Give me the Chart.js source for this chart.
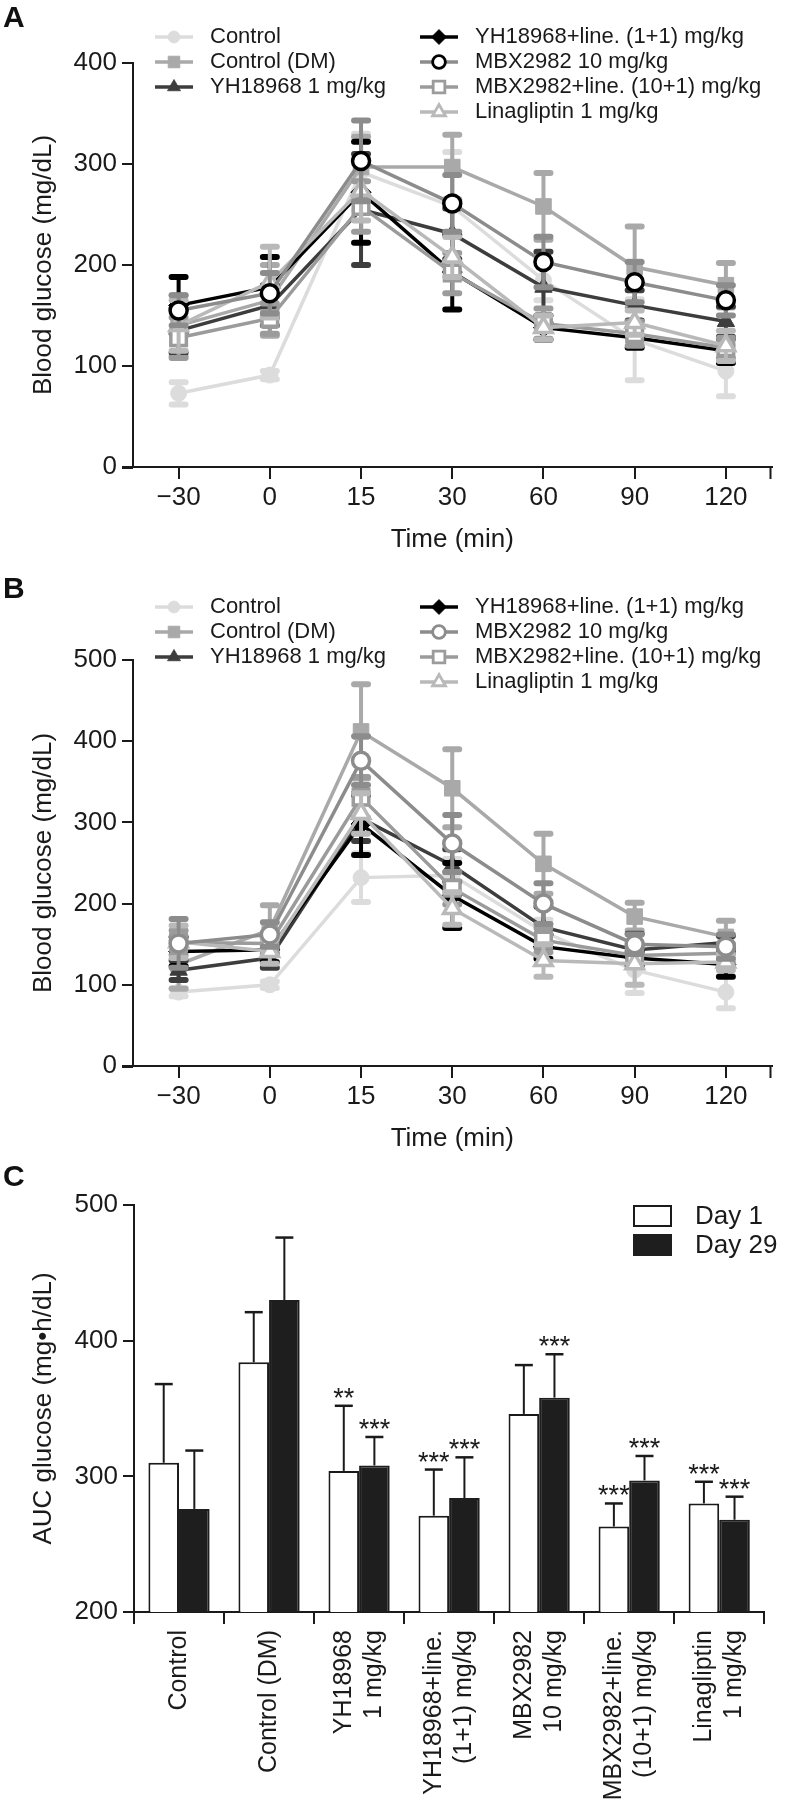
<!DOCTYPE html>
<html>
<head>
<meta charset="utf-8">
<script src="https://cdn.jsdelivr.net/npm/chart.js@4.4.1/dist/chart.umd.min.js"></script>
<style>
html, body { margin: 0; padding: 0; background: #fff; }
#page { position: relative; width: 786px; height: 1810px; overflow: hidden; }
canvas { position: absolute; left: 0; }
.panel { position: absolute; left: 3px; z-index: 2; font: bold 30px 'Liberation Sans', Arial, sans-serif; line-height: 1; color: #111; }
</style>
</head>
<body>
<div id="page">
  <canvas id="chartA" width="786" height="560" style="top:0px"></canvas>
  <canvas id="chartB" width="786" height="589" style="top:570px"></canvas>
  <canvas id="chartC" width="786" height="660" style="top:1150px"></canvas>
  <div class="panel" style="top:2px">A</div>
  <div class="panel" style="top:573px">B</div>
  <div class="panel" style="top:1161px">C</div>
</div>
<script>
// time points and groups
const timePoints = ['\u221230', '0', '15', '30', '60', '90', '120'];
const groupNames = ['Control', 'Control (DM)', 'YH18968 1 mg/kg', 'YH18968+line. (1+1) mg/kg',
  'MBX2982 10 mg/kg', 'MBX2982+line. (10+1) mg/kg', 'Linagliptin 1 mg/kg'];

// panel A - day 1 OGTT (mean, error)
const aControl   = [73, 91, 292, 258, 185, 126, 95];
const aControlDM = [140, 165, 297, 297, 258, 198, 180];
const aYH        = [135, 160, 255, 231, 178, 160, 144];
const aYHLin     = [160, 178, 272, 193, 138, 128, 115];
const aMBX       = [155, 172, 303, 261, 203, 183, 165];
const aMBXLin    = [128, 147, 258, 192, 142, 132, 118];
const aLina      = [140, 183, 274, 208, 138, 143, 120];
const aControlErr   = [11, 4, 38, 54, 20, 40, 25];
const aControlDMErr = [30, 35, 30, 32, 33, 40, 22];
const aYHErr        = [22, 20, 55, 25, 35, 15, 15];
const aYHLinErr     = [28, 30, 50, 37, 12, 10, 12];
const aMBXErr       = [15, 20, 40, 28, 25, 20, 15];
const aMBXLinErr    = [20, 15, 25, 20, 15, 12, 10];
const aLinaErr      = [25, 35, 30, 20, 12, 12, 15];

// panel B - day 29 OGTT
const bControl   = [91, 100, 232, 235, 165, 118, 91];
const bControlDM = [125, 168, 412, 342, 249, 184, 159];
const bYH        = [118, 133, 305, 247, 171, 143, 152];
const bYHLin     = [141, 143, 298, 210, 147, 133, 125];
const bMBX       = [151, 162, 376, 274, 200, 150, 147];
const bMBXLin    = [152, 151, 331, 219, 155, 136, 139];
const bLina      = [153, 141, 311, 194, 130, 126, 128];
const bControlErr   = [5, 4, 30, 20, 15, 28, 20];
const bControlDMErr = [30, 30, 58, 48, 37, 17, 20];
const bYHErr        = [12, 12, 28, 20, 25, 20, 8];
const bYHLinErr     = [18, 15, 38, 40, 15, 8, 15];
const bMBXErr       = [30, 15, 30, 35, 25, 12, 15];
const bMBXLinErr    = [15, 12, 25, 20, 15, 10, 12];
const bLinaErr      = [20, 15, 25, 20, 20, 26, 10];

// panel C - AUC
const aucGroups = ['Control', 'Control (DM)', ['YH18968', '1 mg/kg'], ['YH18968+line.', '(1+1) mg/kg'],
  ['MBX2982', '10 mg/kg'], ['MBX2982+line.', '(10+1) mg/kg'], ['Linagliptin', '1 mg/kg']];
const day1Auc   = [310, 384, 304, 271, 346, 263, 280];
const day1Err   = [58, 37, 48, 34, 36, 17, 16];
const day29Auc  = [276, 430, 308, 284, 358, 297, 268];
const day29Err  = [43, 46, 21, 30, 32, 18, 17];
const day1Stars  = ['', '', '**', '***', '', '***', '***'];
const day29Stars = ['', '', '***', '***', '***', '***', '***'];

const fontFamily = "'Liberation Sans', Arial, Helvetica, sans-serif";
const ink = '#1a1a1a';
const lineColors = ['#dcdcdc', '#a9a9a9', '#3d3d3d', '#000000', '#8c8c8c', '#9b9b9b', '#b9b9b9'];
const markerStyles = ['circle', 'rect', 'triangle', 'rectRot', 'circle', 'rect', 'triangle'];
const markerSizes = [8, 11, 10, 10, 8.5, 11, 10];
const openMarker = [false, false, false, false, true, true, true];

Chart.defaults.font.family = fontFamily;
Chart.defaults.color = ink;

// error bars drawn under each dataset
const errorBars = {
  id: 'errorBars',
  beforeDatasetDraw(chart, args, opts) {
    const ds = chart.data.datasets[args.index];
    if (!ds.errors) return;
    const y = chart.scales.y;
    const ctx = chart.ctx;
    ctx.save();
    ctx.strokeStyle = ds.errorColor || ds.borderColor;
    args.meta.data.forEach((pt, j) => {
      const v = ds.data[j], e = ds.errors[j];
      const top = y.getPixelForValue(v + e);
      const bottom = opts.upOnly ? pt.y : y.getPixelForValue(v - e);
      ctx.lineWidth = opts.stem;
      ctx.lineCap = 'butt';
      ctx.beginPath();
      ctx.moveTo(pt.x, top);
      ctx.lineTo(pt.x, bottom);
      ctx.stroke();
      ctx.lineWidth = opts.capWidth;
      ctx.lineCap = opts.capRound ? 'round' : 'butt';
      ctx.beginPath();
      ctx.moveTo(pt.x - opts.cap, top);
      ctx.lineTo(pt.x + opts.cap, top);
      if (!opts.upOnly) {
        ctx.moveTo(pt.x - opts.cap, bottom);
        ctx.lineTo(pt.x + opts.cap, bottom);
      }
      ctx.stroke();
    });
    ctx.restore();
  }
};

// two column legend for the curve panels
const lineLegend = {
  id: 'lineLegend',
  afterDraw(chart, args, opts) {
    const ctx = chart.ctx;
    chart.data.datasets.forEach((ds, i) => {
      const col = i < opts.split ? 0 : 1;
      const row = col === 0 ? i : i - opts.split;
      const cx = opts.cols[col];
      const cy = opts.top + row * opts.rowGap;
      ctx.save();
      ctx.strokeStyle = ds.borderColor;
      ctx.lineWidth = 3.5;
      ctx.beginPath();
      ctx.moveTo(cx - 19, cy);
      ctx.lineTo(cx + 19, cy);
      ctx.stroke();
      ctx.fillStyle = ds.pointBackgroundColor;
      ctx.strokeStyle = ds.pointBorderColor;
      ctx.lineWidth = ds.pointBorderWidth * 0.8;
      Chart.helpers.drawPoint(ctx, {
        pointStyle: ds.pointStyle, rotation: 0,
        radius: ds.pointRadius * 0.75, borderWidth: ds.pointBorderWidth * 0.8
      }, cx, cy);
      ctx.fillStyle = ink;
      ctx.font = '22px ' + fontFamily;
      ctx.textBaseline = 'middle';
      ctx.textAlign = 'left';
      ctx.fillText(ds.label, cx + 36, cy);
      ctx.restore();
    });
  }
};

// x axis runs a little past the y axis, with a closing tick at the right
const axisStubs = {
  id: 'axisStubs',
  afterDraw(chart) {
    const {left, right, bottom} = chart.chartArea;
    const ctx = chart.ctx;
    ctx.save();
    ctx.strokeStyle = ink;
    ctx.lineWidth = 2;
    ctx.beginPath();
    ctx.moveTo(left - 11, bottom + 1);
    ctx.lineTo(left, bottom + 1);
    ctx.moveTo(right - 1, bottom);
    ctx.lineTo(right - 1, bottom + 12);
    ctx.stroke();
    ctx.restore();
  }
};

function lineSets(means, errs, circleEdge) {
  return means.map((m, i) => ({
    label: groupNames[i],
    data: m,
    errors: errs[i],
    borderColor: lineColors[i],
    borderWidth: 3.5,
    tension: 0,
    pointStyle: markerStyles[i],
    pointRadius: markerSizes[i],
    pointHoverRadius: markerSizes[i],
    pointBackgroundColor: openMarker[i] ? '#ffffff' : lineColors[i],
    pointBorderColor: i === 4 ? circleEdge : lineColors[i],
    pointBorderWidth: openMarker[i] ? 3.5 : 1,
    order: i === 4 ? 0 : 7 - i
  }));
}

function axisLook(tickLen) {
  return {
    grid: { display: true, drawOnChartArea: false, drawTicks: true, tickLength: tickLen, color: ink, lineWidth: 2 },
    border: { display: true, color: ink, width: 2 }
  };
}

function curveChart(id, means, errs, yMax, padTop, legendTop, circleEdge) {
  const xLook = axisLook(12);
  xLook.grid.offset = false;
  return new Chart(document.getElementById(id), {
    type: 'line',
    data: { labels: timePoints, datasets: lineSets(means, errs, circleEdge) },
    options: {
      responsive: false,
      animation: false,
      events: [],
      layout: { padding: { top: padTop, right: 4, left: 0, bottom: 0 } },
      plugins: {
        legend: { display: false },
        tooltip: { enabled: false },
        errorBars: { stem: 4, cap: 7, capWidth: 6, capRound: true },
        lineLegend: { split: 3, cols: [174, 439], top: legendTop, rowGap: 25 }
      },
      scales: {
        x: Object.assign(xLook, {
          offset: true,
          ticks: { font: { size: 26 }, color: ink, padding: 3, maxRotation: 0, autoSkip: false },
          title: { display: true, text: 'Time (min)', font: { size: 26 }, color: ink, padding: { top: 0, bottom: 5 } },
          afterFit: s => { s.height = 93; }
        }),
        y: Object.assign(axisLook(11), {
          min: 0, max: yMax,
          ticks: { stepSize: 100, font: { size: 26 }, color: ink, padding: 5 },
          title: { display: true, text: 'Blood glucose (mg/dL)', font: { size: 26 }, color: ink, padding: { top: 28, bottom: 0 } },
          afterFit: s => { s.width = 133; }
        })
      }
    },
    plugins: [errorBars, lineLegend, axisStubs]
  });
}

curveChart('chartA',
  [aControl, aControlDM, aYH, aYHLin, aMBX, aMBXLin, aLina],
  [aControlErr, aControlDMErr, aYHErr, aYHLinErr, aMBXErr, aMBXLinErr, aLinaErr],
  400, 63, 37, '#000000');

curveChart('chartB',
  [bControl, bControlDM, bYH, bYHLin, bMBX, bMBXLin, bLina],
  [bControlErr, bControlDMErr, bYHErr, bYHLinErr, bMBXErr, bMBXLinErr, bLinaErr],
  500, 90, 37, lineColors[4]);

// center the two-line rotated category labels on their tick
const centerLines = {
  id: 'centerLines',
  beforeDraw(chart) {
    const items = chart.scales.x.getLabelItems();
    if (items._centered) return;
    items.forEach(it => {
      if (Array.isArray(it.label) && it.label.length > 1) {
        it.options.translation[0] -= (it.label.length - 1) * it.font.lineHeight / 2;
      }
    });
    items._centered = true;
  }
};

// significance marks over the error caps
const starMarks = {
  id: 'starMarks',
  afterDatasetsDraw(chart) {
    const ctx = chart.ctx;
    const y = chart.scales.y;
    chart.data.datasets.forEach((ds, i) => {
      const meta = chart.getDatasetMeta(i);
      ctx.save();
      ctx.fillStyle = ink;
      ctx.font = '27px ' + fontFamily;
      ctx.textAlign = 'center';
      ctx.textBaseline = 'alphabetic';
      meta.data.forEach((bar, j) => {
        if (!ds.stars[j]) return;
        ctx.fillText(ds.stars[j], bar.x, y.getPixelForValue(ds.data[j] + ds.errors[j]) + 1);
      });
      ctx.restore();
    });
  }
};

const boxLegend = {
  id: 'boxLegend',
  afterDraw(chart, args, opts) {
    const ctx = chart.ctx;
    chart.data.datasets.forEach((ds, i) => {
      const top = opts.y + i * opts.gap;
      ctx.save();
      ctx.fillStyle = ds.backgroundColor;
      ctx.fillRect(opts.x, top, opts.w, opts.h);
      ctx.strokeStyle = ds.borderColor;
      ctx.lineWidth = 2;
      ctx.strokeRect(opts.x + 1, top + 1, opts.w - 2, opts.h - 2);
      ctx.fillStyle = ink;
      ctx.font = '26px ' + fontFamily;
      ctx.textBaseline = 'middle';
      ctx.fillText(ds.label, opts.textX, top + opts.h / 2 + 1);
      ctx.restore();
    });
  }
};

const xLookC = axisLook(12);
new Chart(document.getElementById('chartC'), {
  type: 'bar',
  data: {
    labels: aucGroups,
    datasets: [
      { label: 'Day 1', data: day1Auc, errors: day1Err, stars: day1Stars, errorColor: ink,
        backgroundColor: '#ffffff', borderColor: ink, borderWidth: 2, borderSkipped: 'start',
        categoryPercentage: 0.68, barPercentage: 1.0 },
      { label: 'Day 29', data: day29Auc, errors: day29Err, stars: day29Stars, errorColor: ink,
        backgroundColor: '#1e1e1e', borderColor: '#1e1e1e', borderWidth: 2, borderSkipped: 'start',
        categoryPercentage: 0.68, barPercentage: 1.0 }
    ]
  },
  options: {
    responsive: false,
    animation: false,
    events: [],
    layout: { padding: { top: 55, right: 11, left: 0, bottom: 0 } },
    plugins: {
      legend: { display: false },
      tooltip: { enabled: false },
      errorBars: { stem: 2, cap: 9, capWidth: 2.5, capRound: false, upOnly: true },
      boxLegend: { x: 633, y: 55, w: 39, h: 22, gap: 29, textX: 695 }
    },
    scales: {
      x: Object.assign(xLookC, {
        offset: true,
        ticks: { font: { size: 25 }, color: ink, padding: 6, minRotation: 90, maxRotation: 90, autoSkip: false },
        afterFit: s => { s.height = 198; }
      }),
      y: Object.assign(axisLook(11), {
        min: 200, max: 500,
        ticks: { stepSize: 100, font: { size: 26 }, color: ink, padding: 5 },
        title: { display: true, text: 'AUC glucose (mg\u2022h/dL)', font: { size: 26 }, color: ink, padding: { top: 28, bottom: 0 } },
        afterFit: s => { s.width = 134; }
      })
    }
  },
  plugins: [errorBars, centerLines, starMarks, boxLegend]
});
</script>
</body>
</html>
